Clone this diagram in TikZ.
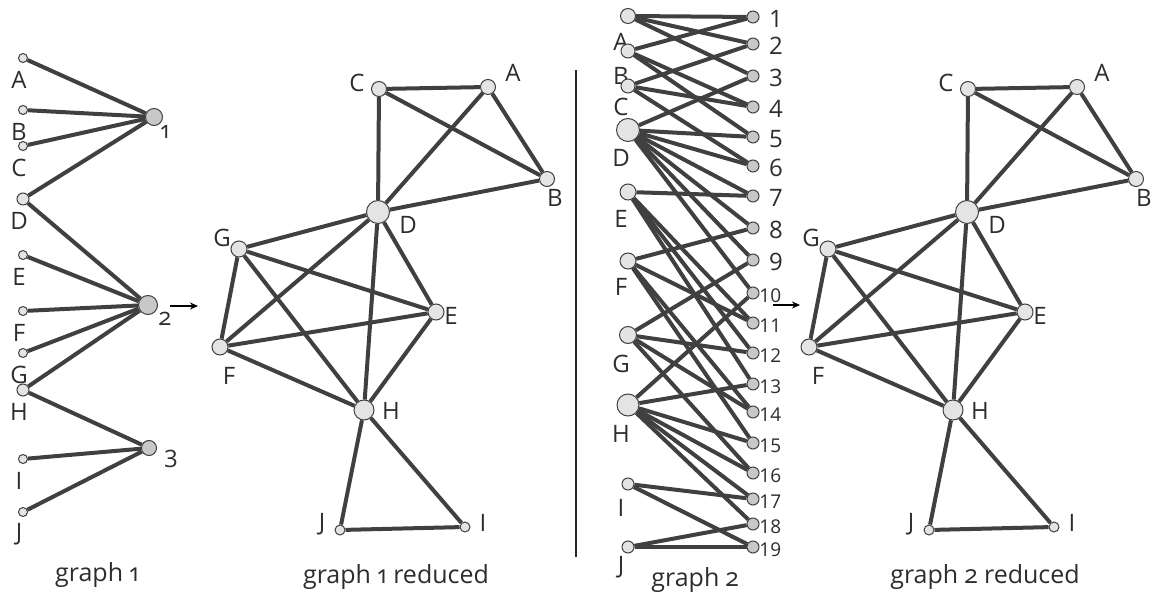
\documentclass[tikz,border=0pt]{standalone}
\usepackage{fontspec}
\setmainfont{Open Sans}
\newfontfamily\oldnum{Open Sans}[Numbers=OldStyle]
\usepackage{tikz}
\usetikzlibrary{arrows.meta, positioning}
\definecolor{linkGray}{RGB}{64,64,64}
\definecolor{vertexFill}{RGB}{228,228,228}
\definecolor{hyperFill}{RGB}{200,200,200}
\definecolor{labelGray}{RGB}{45,45,45}

\begin{document}
\begin{tikzpicture}[
    x=0.5pt, y=-0.5pt,
    every node/.style={font=\fontsize{12}{13}\selectfont, text=labelGray},
    vertex/.style={circle, draw=linkGray, line width=0.5pt, fill=vertexFill, inner sep=0pt, minimum size=#1},
    hyper/.style={vertex=#1, fill=hyperFill},
    link/.style={draw=linkGray, line width=2pt},
    pointer/.style={draw=black, line width=0.6pt, -{Stealth[length=4pt, width=3.5pt]}},
    caption/.style={font=\oldnum\fontsize{12.5}{14}\selectfont},
    numsmall/.style={font=\fontsize{9.5}{10}\selectfont}
]
    \useasboundingbox (0,0) rectangle (1155,598);

    % graph 1 (hyperedges)
    \foreach \n/\y/\s in {A/58/4.5pt, B/110/4.5pt, C/146/4.5pt, D/199/6pt, E/255/4.5pt,
                          F/311/4.5pt, G/353/4.5pt, H/390/6pt, I/459/4.5pt, J/512/4.5pt} {
        \node[vertex=\s] (g1\n) at (23,\y) {};
        \node (g1l\n) at (19,{\y+22}) {\n};
    }
    \node[hyper=8.5pt] (g1e1) at (154,117) {};
    \node[hyper=9.5pt] (g1e2) at (148,305) {};
    \node[hyper=7.5pt] (g1e3) at (149,448) {};
    \node[font=\oldnum\fontsize{12}{13}\selectfont] (g1le1) at (165,132) {1};
    \node[font=\oldnum\fontsize{12}{13}\selectfont] (g1le2) at (165,319) {2};
    \node[font=\oldnum\fontsize{12}{13}\selectfont] (g1le3) at (171,459) {3};
    \foreach \v in {A,B,C,D} \draw[link] (g1\v) -- (g1e1);
    \foreach \v in {D,E,F,G,H} \draw[link] (g1\v) -- (g1e2);
    \foreach \v in {H,I,J} \draw[link] (g1\v) -- (g1e3);
    \coordinate (g1from) at (170,306);
    \coordinate (g1to) at (198,306);
    \draw[pointer] (g1from) -- (g1to);
    \node[caption] (cap1) at (97,575) {graph 1};

    % reduced graphs (same drawing twice)
    \foreach \g/\dx/\t in {r1/0/graph 1 reduced, r2/589/graph 2 reduced} {
    \begin{scope}[shift={(\dx,0)}, name prefix=\g-]
        \foreach \n/\x/\y/\s/\lx/\ly in {C/379/89/7.5pt/357/83, A/488/87/7.5pt/513/73,
                                         B/547/179/7.5pt/555/198, D/378/212/11.5pt/408/225,
                                         G/239/249/8pt/222/238, E/436/312/8pt/451/316,
                                         F/220/347/8pt/229/376, H/364/410/10pt/391/411,
                                         J/340/530/5pt/322/524, I/465/527/5pt/483/523} {
            \node[vertex=\s] (\n) at (\x,\y) {};
            \node (l\n) at (\lx,\ly) {\n};
        }
        \foreach \u/\v in {C/A, C/D, C/B, A/D, A/B, D/B,
                           D/G, D/F, D/E, D/H, G/F, G/E, G/H, F/E, F/H, E/H,
                           H/J, H/I, J/I}
            \draw[link] (\u) -- (\v);
        \node[caption] (cap) at (396,577) {\t};
    \end{scope}
    }

    % separator
    \coordinate (septop) at (576,70);
    \coordinate (sepbot) at (576,557);
    \draw[black!85, line width=0.8pt] (septop) -- (sepbot);

    % graph 2 (pairs)
    \foreach \n/\y/\s/\ly in {A/16/7.5pt/42, B/51/7pt/76, C/86/7pt/107, D/130/11.5pt/158,
                              E/192/8pt/219, F/261/8pt/287, G/335/8.5pt/364, H/405/11pt/434,
                              I/484/6pt/508, J/547/6pt/567} {
        \node[vertex=\s] (g2\n) at (628,\y) {};
        \node (g2l\n) at (621,\ly) {\n};
    }
    \foreach \k/\y in {1/17, 2/44, 3/76, 4/107, 5/137, 6/166, 7/196, 8/228, 9/260} {
        \node[hyper=6pt] (g2e\k) at (753,\y) {};
        \node[anchor=west] (g2le\k) at (762,{\y+2}) {\k};
    }
    \foreach \k/\y in {10/293, 11/323, 12/353, 13/384, 14/412, 15/443, 16/473, 17/499, 18/524, 19/547} {
        \node[hyper=6pt] (g2e\k) at (753,\y) {};
        \node[numsmall, anchor=west, inner sep=0pt] (g2le\k) at (759,{\y+3}) {\k};
    }
    \foreach \k/\u/\v in {1/A/B, 2/A/C, 3/A/D, 4/B/C, 5/B/D, 6/C/D, 7/D/E, 8/D/F, 9/D/G,
                          10/D/H, 11/E/F, 12/E/G, 13/E/H, 14/F/G, 15/F/H, 16/G/H,
                          17/H/I, 18/H/J, 19/I/J} {
        \draw[link] (g2\u) -- (g2e\k);
        \draw[link] (g2\v) -- (g2e\k);
    }
    \coordinate (g2from) at (773,305);
    \coordinate (g2to) at (800,305);
    \draw[pointer] (g2from) -- (g2to);
    \node[caption] (cap2) at (695,580) {graph 2};

\end{tikzpicture}
\end{document}
